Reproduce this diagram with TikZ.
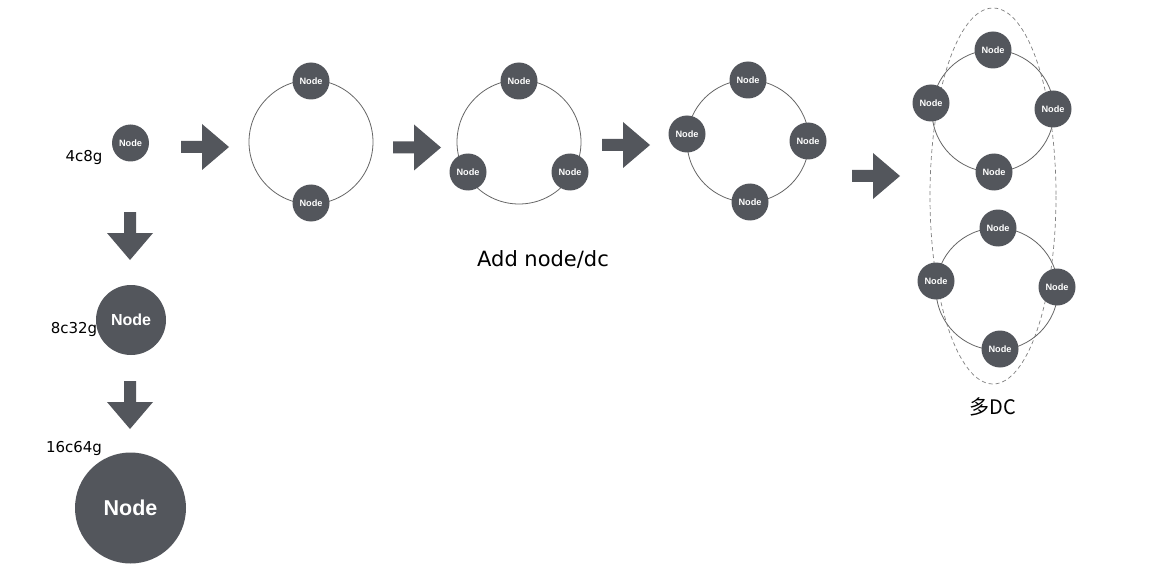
\documentclass[tikz,border=0pt]{standalone}
\usepackage{fontspec}
\setmainfont{DejaVu Sans}
\newfontfamily\nodefont{Liberation Sans}
\newfontfamily\cjkfont{Noto Sans CJK SC}
\definecolor{nodegray}{HTML}{53565C}
\definecolor{ringgray}{HTML}{666666}
\begin{document}
\begin{tikzpicture}[x=1pt,y=-1pt,
  srv/.style={circle, fill=nodegray, text=white, inner sep=0pt,
    minimum size=37pt, font=\nodefont\bfseries\fontsize{9.2}{10}\selectfont},
  srvm/.style={srv, minimum size=70pt, font=\nodefont\bfseries\fontsize{16}{18}\selectfont},
  srvl/.style={srv, minimum size=111pt, font=\nodefont\bfseries\fontsize{21.5}{24}\selectfont},
  ring/.style={draw=ringgray, line width=0.8pt},
  arrowfill/.style={fill=nodegray},
  spec/.style={font=\fontsize{15}{17}\selectfont, text=black, inner sep=0pt},
  caption/.style={font=\fontsize{21}{24}\selectfont, text=black, inner sep=0pt},
  dcbox/.style={draw=gray, line width=0.7pt, dash pattern=on 4pt off 3pt}]
\useasboundingbox (0,0) rectangle (1149,583);
\fill[white] (0,0) rectangle (1149,583);

% arrows
\newcommand{\rightarr}[2]{\fill[arrowfill, shift={(#1,#2)}] (0,-6) -- (21,-6) -- (21,-23) -- (48,0) -- (21,23) -- (21,6) -- (0,6) -- cycle;}
\newcommand{\downarr}[2]{\fill[arrowfill, shift={(#1,#2)}] (-6,0) -- (6,0) -- (6,21) -- (23,21) -- (0,48) -- (-23,21) -- (-6,21) -- cycle;}
\rightarr{181}{147}
\rightarr{393}{147.5}
\rightarr{602}{145}
\rightarr{852}{176}
\downarr{130}{212}
\downarr{130}{381}

% vertical scaling
\node[srv] (s1) at (130.5,143) {Node};
\node[spec] (l1) at (84,157) {4c8g};
\node[srvm] (s2) at (131,320) {Node};
\node[spec] (l2) at (74,329) {8c32g};
\node[srvl] (s3) at (130.5,508) {Node};
\node[spec] (l3) at (74,448) {16c64g};

% ring 1
\draw[ring] (311,142) circle (62);
\node[srv] (r1a) at (311,81) {Node};
\node[srv] (r1b) at (311,203) {Node};

% ring 2
\draw[ring] (519,142) circle (62);
\node[srv] (r2a) at (519,81) {Node};
\node[srv] (r2b) at (468,172) {Node};
\node[srv] (r2c) at (570,172) {Node};
\node[caption] (add) at (543,259) {Add node/dc};

% ring 3
\draw[ring] (748,141) circle (61);
\node[srv] (r3a) at (748,80) {Node};
\node[srv] (r3b) at (687,134) {Node};
\node[srv] (r3c) at (808,141) {Node};
\node[srv] (r3d) at (750,202) {Node};

% multi DC
\draw[ring] (993,111) circle (61);
\draw[ring] (997,289) circle (61);
\draw[dcbox] (993,196) ellipse (63 and 188);
\node[srv] (r4a) at (993,50) {Node};
\node[srv] (r4b) at (931,103) {Node};
\node[srv] (r4c) at (1053,109) {Node};
\node[srv] (r4d) at (994,172) {Node};
\node[srv] (r5a) at (998,228) {Node};
\node[srv] (r5b) at (936,281) {Node};
\node[srv] (r5c) at (1057,287) {Node};
\node[srv] (r5d) at (1000,349) {Node};
\node[font=\cjkfont\fontsize{20}{22}\selectfont, inner sep=0pt] (dc) at (993,407) {多DC};
\end{tikzpicture}
\end{document}
